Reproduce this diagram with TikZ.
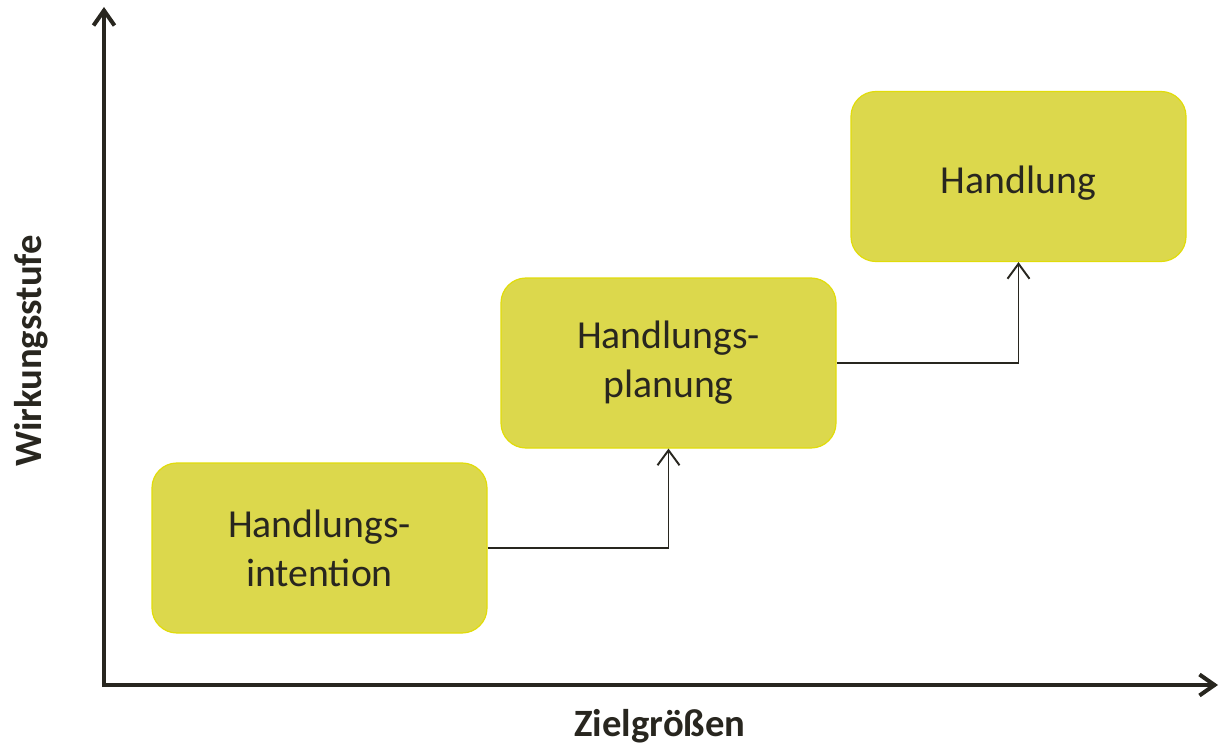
\documentclass[tikz,border=0pt]{standalone}
\usepackage{fontspec}
\setmainfont{Carlito}
\usetikzlibrary{arrows.meta,positioning}
\definecolor{boxfill}{RGB}{220,216,76}
\definecolor{boxline}{RGB}{225,220,10}
\definecolor{ink}{RGB}{40,38,31}
\tikzstyle{block} = [rectangle, draw=boxline, line width=0.7pt, fill=boxfill,
    text=ink, align=center, rounded corners=0.5cm, minimum width=6.7cm,
    minimum height=3.4cm, font=\fontsize{22.6}{28}\selectfont]
\tikzstyle{line} = [draw=ink, line width=1.1pt, -{Straight Barb[length=0.3cm,width=0.44cm]}]
\tikzstyle{axis} = [draw=ink, line width=2.3pt, -{Straight Barb[length=0.3cm,width=0.42cm]}]
\tikzstyle{axislabel} = [text=ink, font=\fontsize{22}{26}\selectfont\bfseries]

\begin{document}
\begin{tikzpicture}[node distance=6.98cm]
    \useasboundingbox (0,0) rectangle (24.38,14.94);
    % Axes
    \coordinate (origin) at (2.08,1.24);
    \coordinate (ytip) at (2.08,14.80);
    \coordinate (xtip) at (24.36,1.24);
    \path [axis] ([yshift=-1.15pt]origin) -- (ytip);
    \path [axis] ([xshift=-1.15pt]origin) -- (xtip);
    \node [axislabel] (xlabel) at (13.2,0.42) {Zielgrößen};
    \node [axislabel, rotate=90] (ylabel) at (0.62,7.92) {Wirkungsstufe};
    % Place nodes
    \node [block] (intention) at (6.39,3.98) {Handlungs-\\intention};
    \node [block, right of=intention, yshift=3.7cm] (planung) {Handlungs-\\planung};
    \node [block, right of=planung, xshift=0.02cm, yshift=3.73cm, text height=0.8cm] (handlung) {Handlung};
    % Draw edges
    \path [line] (intention.east) -| (planung.south);
    \path [line] (planung.east) -| (handlung.south);
\end{tikzpicture}
\end{document}
